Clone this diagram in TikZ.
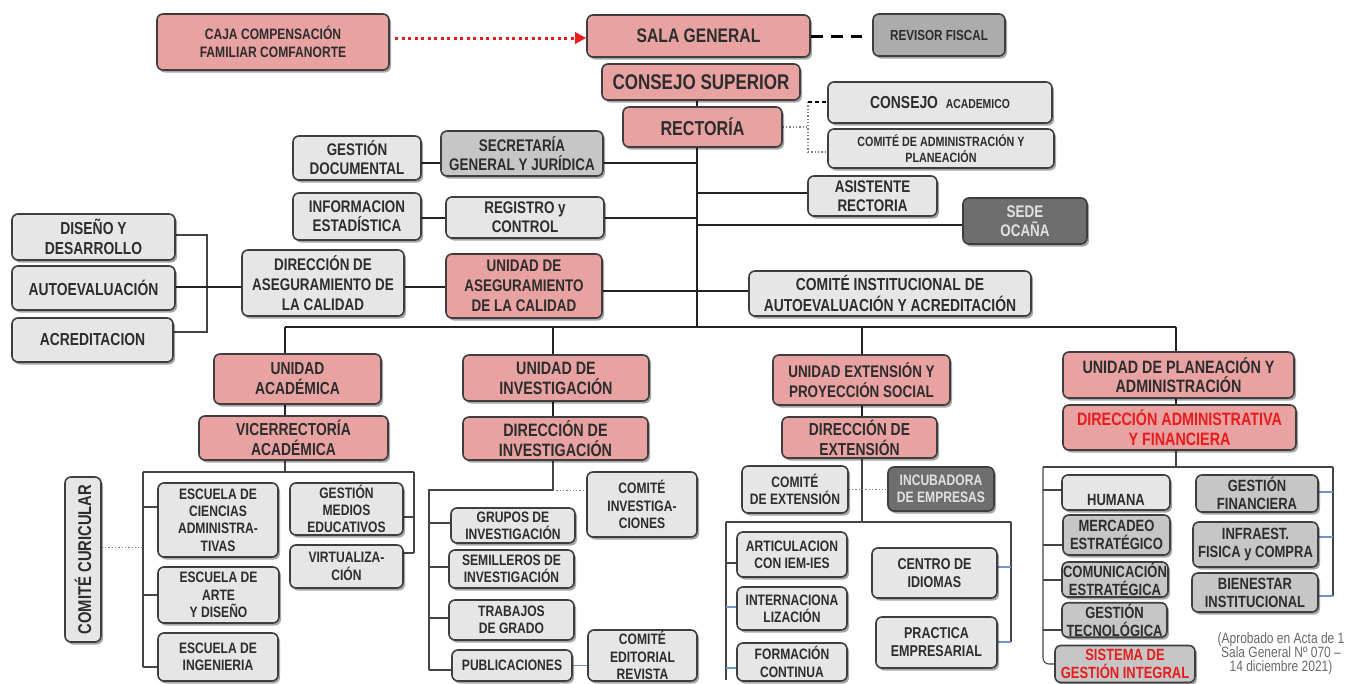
\documentclass[tikz,border=0pt]{standalone}
\usepackage{fontspec}
\setmainfont{Liberation Sans}[FakeStretch=0.8]
\usetikzlibrary{shadows,arrows.meta}
\pgfdeclarelayer{background}
\pgfsetlayers{background,main}
\definecolor{pinkb}{RGB}{232,162,162}
\definecolor{lgray}{RGB}{230,230,230}
\definecolor{mgray}{RGB}{198,198,198}
\definecolor{rgray}{RGB}{172,172,172}
\definecolor{dgray}{RGB}{110,110,110}
\definecolor{edge}{RGB}{62,62,62}
\definecolor{txt}{RGB}{45,45,45}
\definecolor{conn}{RGB}{35,35,35}
\definecolor{bluel}{RGB}{110,150,205}
\definecolor{redt}{RGB}{232,28,28}
\newcommand\fs[2]{\bfseries\fontsize{\fpeval{#1*1.12}}{\fpeval{#2*1.12}}\selectfont}
\tikzset{
  box/.style={draw=edge, line width=1.6pt, rounded corners=6pt, align=center,
    inner sep=1pt, text=txt,
    drop shadow={shadow xshift=2pt, shadow yshift=-2.5pt, opacity=0.35, fill=black}},
  pinkbox/.style={box, fill=pinkb},
  lbox/.style={box, fill=lgray},
  mbox/.style={box, fill=mgray},
  rbox/.style={box, fill=rgray},
  dbox/.style={box, fill=dgray, text={rgb,255:red,225;green,225;blue,225}},
  wh/.style 2 args={minimum width=#1pt, minimum height=#2pt},
  ln/.style={draw=conn, line width=1.5pt},
  lnb/.style={draw=conn, line width=2.6pt},
  lnt/.style={draw=conn!85, line width=1.1pt},
  bl/.style={draw=bluel, line width=1.1pt},
  dotline/.style={draw=gray, line width=1.3pt, dotted},
  reddot/.style={draw=redt, line width=3pt, dash pattern=on 3pt off 3.5pt,
    -{Triangle[length=11pt,width=11pt]}},
  blackdash/.style={draw=black, line width=3pt, dash pattern=on 12pt off 8pt},
}
\begin{document}
\begin{tikzpicture}[x=1pt,y=-1pt]
\useasboundingbox (0,0) rectangle (1351,683);

% ---------- coordinates ----------
\coordinate (spT) at (697,100);
\coordinate (spB) at (697,327);
\coordinate (s1) at (697,163);
\coordinate (s2) at (697,218);
\coordinate (s3) at (697,193);
\coordinate (s4) at (697,225);
\coordinate (s5) at (697,291);
\coordinate (dA) at (808,102);
\coordinate (dB) at (808,152);
\coordinate (b1) at (207,235);
\coordinate (b2) at (207,332);
\coordinate (a1) at (243,287);
\coordinate (busL) at (285,327);
\coordinate (busR) at (1176,327);
\coordinate (k2) at (553,327);
\coordinate (k3) at (862,327);
\coordinate (v1) at (285,472);
\coordinate (aL) at (143,472);
\coordinate (aR) at (414,472);
\coordinate (aLB) at (143,667);
\coordinate (aRB) at (414,553);
\coordinate (e1) at (143,507);
\coordinate (e2) at (143,595);
\coordinate (r1) at (414,517);
\coordinate (c1) at (143,547);
\coordinate (i1) at (553,490);
\coordinate (iL) at (429,490);
\coordinate (iLB) at (429,670);
\coordinate (g1) at (429,523);
\coordinate (g2) at (429,567);
\coordinate (g3) at (429,618);
\coordinate (x1) at (862,522);
\coordinate (xL) at (726,522);
\coordinate (xR) at (1011,522);
\coordinate (xLB) at (726,680);
\coordinate (xRB) at (1011,642);
\coordinate (x2) at (726,563);
\coordinate (x3) at (726,607);
\coordinate (x4) at (726,668);
\coordinate (x5) at (1011,567);
\coordinate (p1) at (1176,467);
\coordinate (pL) at (1043,467);
\coordinate (pR) at (1333,467);
\coordinate (pRB) at (1333,596);
\coordinate (q1) at (1043,490);
\coordinate (q2) at (1043,545);
\coordinate (q3) at (1043,580);
\coordinate (q4) at (1043,630);
\coordinate (q5) at (1333,492);
\coordinate (q6) at (1333,537);
\coordinate (ar) at (395,38);

% ---------- top ----------
\node[pinkbox, wh={232}{56}, font=\fs{13.5}{16}] (caja) at (273,42) {CAJA COMPENSACIÓN\\FAMILIAR COMFANORTE};
\node[pinkbox, wh={223}{42}, font=\fs{17.5}{20}] (sala) at (698.5,36) {SALA GENERAL};
\node[rbox, wh={132}{42}, font=\fs{13}{15}] (revisor) at (939,35) {REVISOR FISCAL};
\node[pinkbox, wh={198}{36}, font=\fs{19}{21}] (consup) at (701,82) {CONSEJO SUPERIOR};
\node[pinkbox, wh={159}{40}, font=\fs{18}{20}] (rect) at (702.5,127) {RECTORÍA};
\node[lbox, wh={224}{41}, font=\fs{15.5}{18}] (consacad) at (940,102.5) {CONSEJO\ \ {\fontsize{13}{14}\selectfont ACADEMICO}};
\node[lbox, wh={226}{39}, font=\fs{12}{14.5}] (comadm) at (941,148.5) {COMITÉ DE ADMINISTRACIÓN Y\\PLANEACIÓN};
\node[lbox, wh={128}{44}, font=\fs{15}{17}] (gestdoc) at (357,158) {GESTIÓN\\DOCUMENTAL};
\node[mbox, wh={162}{45}, font=\fs{15}{17}] (secgen) at (522,153.5) {SECRETARÍA\\GENERAL Y JURÍDICA};
\node[lbox, wh={128}{47}, font=\fs{15}{17}] (infest) at (357,216.5) {INFORMACION\\ESTADÍSTICA};
\node[lbox, wh={158}{41}, font=\fs{15}{17}] (regctrl) at (525,217.5) {REGISTRO y\\CONTROL};
\node[lbox, wh={129}{40}, font=\fs{15}{17}] (asist) at (872.5,196) {ASISTENTE\\RECTORIA};
\node[dbox, wh={124}{46}, font=\fs{15}{17}] (sede) at (1025,221) {SEDE\\OCAÑA};
\node[lbox, wh={163}{46}, font=\fs{15.5}{18}] (diseno) at (93.5,237) {DISEÑO Y\\DESARROLLO};
\node[lbox, wh={163}{44}, font=\fs{15.5}{18}] (autoev) at (93.5,288) {AUTOEVALUACIÓN};
\node[lbox, wh={161}{44}, font=\fs{15.5}{18}] (acred) at (92.5,340) {ACREDITACION};
\node[lbox, wh={162}{66}, font=\fs{15}{18}] (dirasc) at (323,283) {DIRECCIÓN DE\\ASEGURAMIENTO DE\\LA CALIDAD};
\node[pinkbox, wh={156}{64}, font=\fs{15}{18}] (unasc) at (524,286) {UNIDAD DE\\ASEGURAMIENTO\\DE LA CALIDAD};
\node[lbox, wh={282}{45}, font=\fs{15.5}{19}] (comins) at (890,293.5) {COMITÉ INSTITUCIONAL DE\\AUTOEVALUACIÓN Y ACREDITACIÓN};

% ---------- second row ----------
\node[pinkbox, wh={167}{50}, font=\fs{15.5}{18}] (unacad) at (297.5,379) {UNIDAD\\ACADÉMICA};
\node[pinkbox, wh={189}{44}, font=\fs{15.5}{18}] (vicer) at (293.5,438) {VICERRECTORÍA\\ACADÉMICA};
\node[pinkbox, wh={186}{46}, font=\fs{16}{18}] (uninv) at (556,378) {UNIDAD DE\\INVESTIGACIÓN};
\node[pinkbox, wh={185}{43}, font=\fs{16}{18}] (dirinv) at (555.5,438.5) {DIRECCIÓN DE\\INVESTIGACIÓN};
\node[pinkbox, wh={177}{50}, font=\fs{15}{18}] (unext) at (861.5,380) {UNIDAD EXTENSIÓN Y\\PROYECCIÓN SOCIAL};
\node[pinkbox, wh={155}{41}, font=\fs{15.5}{18}] (dirext) at (859.5,437.5) {DIRECCIÓN DE\\EXTENSIÓN};
\node[pinkbox, wh={231}{46}, font=\fs{16}{17.5}] (unplan) at (1178.5,375) {UNIDAD DE PLANEACIÓN Y\\ADMINISTRACIÓN};
\node[pinkbox, wh={233}{45}, font=\fs{16}{17.5}, text=redt] (diradm) at (1179.5,427.5) {DIRECCIÓN ADMINISTRATIVA\\Y FINANCIERA};

% ---------- academic ----------
\node[lbox, rotate=90, wh={165}{36}, font=\fs{16.5}{18}] (comcur) at (83,559.5) {COMITÉ CURICULAR};
\node[lbox, wh={120}{74}, font=\fs{13.5}{15.5}] (esc1) at (218,520) {ESCUELA DE\\CIENCIAS\\ADMINISTRA-\\TIVAS};
\node[lbox, wh={121}{56}, font=\fs{13.5}{15.5}] (esc2) at (218.5,595) {ESCUELA DE\\ARTE\\Y DISEÑO};
\node[lbox, wh={120}{48}, font=\fs{13.5}{15.5}] (esc3) at (218,657) {ESCUELA DE\\INGENIERIA};
\node[lbox, wh={113}{52}, font=\fs{13.5}{15.5}] (gestmed) at (346.5,509) {GESTIÓN\\MEDIOS\\EDUCATIVOS};
\node[lbox, wh={113}{43}, font=\fs{13.5}{15.5}] (virt) at (346.5,566.5) {VIRTUALIZA-\\CIÓN};

% ---------- research ----------
\node[lbox, wh={110}{65}, font=\fs{13.5}{15.5}] (cominv) at (642,504.5) {COMITÉ\\INVESTIGA-\\CIONES};
\node[lbox, wh={124}{35}, font=\fs{13.5}{15.5}] (grupos) at (513,525.5) {GRUPOS DE\\INVESTIGACIÓN};
\node[lbox, wh={125}{38}, font=\fs{13.5}{15.5}] (semil) at (511.5,569) {SEMILLEROS DE\\INVESTIGACIÓN};
\node[lbox, wh={125}{40}, font=\fs{13.5}{15.5}] (trab) at (511.5,620) {TRABAJOS\\DE GRADO};
\node[lbox, wh={120}{31}, font=\fs{13.5}{15.5}] (publ) at (512,665.5) {PUBLICACIONES};
\node[lbox, wh={109}{51}, font=\fs{13.5}{15.5}] (comedit) at (642.5,655.5) {COMITÉ\\EDITORIAL\\REVISTA};

% ---------- extension ----------
\node[lbox, wh={106}{47}, font=\fs{13.5}{15.5}] (comext) at (795,489.5) {COMITÉ\\DE EXTENSIÓN};
\node[dbox, wh={106}{44}, font=\fs{13.5}{15.5}] (incub) at (941,489) {INCUBADORA\\DE EMPRESAS};
\node[lbox, wh={110}{45}, font=\fs{13.5}{15.5}] (artic) at (792,554.5) {ARTICULACION\\CON IEM-IES};
\node[lbox, wh={110}{43}, font=\fs{13.5}{15.5}] (intern) at (792,608.5) {INTERNACIONA\\LIZACIÓN};
\node[lbox, wh={110}{38}, font=\fs{13.5}{15.5}] (formc) at (792,662) {FORMACIÓN\\CONTINUA};
\node[lbox, wh={125}{50}, font=\fs{14}{16}] (centro) at (934.5,573) {CENTRO DE\\IDIOMAS};
\node[lbox, wh={121}{51}, font=\fs{14}{16}] (pract) at (936.5,642.5) {PRACTICA\\EMPRESARIAL};

% ---------- planeacion ----------
\node[lbox, wh={108}{35}, label={[font=\fs{14.5}{16}, text=txt, yshift=-7pt]center:HUMANA}] (humana) at (1116,492.5) {};
\node[mbox, wh={107}{40}, font=\fs{14.5}{16}] (mercadeo) at (1116.5,535) {MERCADEO\\ESTRATÉGICO};
\node[mbox, wh={106}{35}, font=\fs{14.5}{16}] (comunic) at (1115,579.5) {COMUNICACIÓN\\ESTRATÉGICA};
\node[mbox, wh={105}{34}, font=\fs{14.5}{16}] (gesttec) at (1114.5,620) {GESTIÓN\\TECNOLÓGICA};
\node[mbox, wh={140}{37}, font=\fs{14.5}{16}, text=redt] (sistema) at (1125,664) {SISTEMA DE\\GESTIÓN INTEGRAL};
\node[mbox, wh={122}{37}, font=\fs{14.5}{16}] (gestfin) at (1257,493.5) {GESTIÓN\\FINANCIERA};
\node[mbox, wh={125}{45}, font=\fs{14.5}{16}] (infra) at (1255.5,544.5) {INFRAEST.\\FISICA y COMPRA};
\node[mbox, wh={126}{39}, font=\fs{14.5}{16}] (bien) at (1255,592.5) {BIENESTAR\\INSTITUCIONAL};
\node[align=center, text={rgb,255:red,105;green,105;blue,105}, font=\fontsize{15}{14}\selectfont, inner sep=0pt] (nota) at (1281,654) {(Aprobado en Acta de 1\\Sala General Nº 070 –\\14 diciembre 2021)};

% ---------- connectors ----------
\begin{pgfonlayer}{background}
\draw[reddot] (ar) -- (ar -| sala.west);
\draw[blackdash, shorten >=10pt] (sala.east) -- (sala.east -| revisor.west);
\draw[ln] (spT) -- (spB);
\draw[dotline] (rect.east) -- (rect.east -| dA);
\draw[dotline] (dA) -- (dB);
\draw[draw=black, line width=1.5pt, dash pattern=on 4pt off 3pt] (dA) -- (consacad.west |- dA);
\draw[dotline] (dB) -- (comadm.west |- dB);
\draw[ln] (gestdoc.east |- s1) -- (secgen.west |- s1);
\draw[ln] (secgen.east |- s1) -- (s1);
\draw[ln] (infest.east |- s2) -- (regctrl.west |- s2);
\draw[ln] (regctrl.east |- s2) -- (s2);
\draw[ln] (s3) -- (asist.west |- s3);
\draw[ln] (s4) -- (sede.west |- s4);
\draw[lnt] (diseno.east |- b1) -- (b1) -- (b2) -- (acred.east |- b2);
\draw[ln] (autoev.east |- a1) -- (dirasc.west |- a1);
\draw[ln] (dirasc.east |- a1) -- (unasc.west |- a1);
\draw[ln] (unasc.east |- s5) -- (s5) -- (comins.west |- s5);
\draw[lnb] (busL) -- (busR);
\draw[ln] (busL) -- (busL |- unacad.north);
\draw[ln] (k2) -- (k2 |- uninv.north);
\draw[ln] (k3) -- (k3 |- unext.north);
\draw[ln] (busR) -- (busR |- unplan.north);
\draw[ln] (busL |- unacad.south) -- (busL |- vicer.north);
\draw[ln] (k2 |- uninv.south) -- (k2 |- dirinv.north);
\draw[ln] (k3 |- unext.south) -- (k3 |- dirext.north);
\draw[ln] (busR |- unplan.south) -- (busR |- diradm.north);
% academic
\draw[lnt] (busL |- vicer.south) -- (v1);
\draw[lnt] (aL) -- (aR);
\draw[lnt] (aL) -- (aLB);
\draw[lnt] (aR) -- (aRB);
\draw[lnt] (e1) -- (esc1.west |- e1);
\draw[lnt] (e2) -- (esc2.west |- e2);
\draw[lnt] (aLB) -- (esc3.west |- aLB);
\draw[lnt] (gestmed.east |- r1) -- (r1);
\draw[lnt] (virt.east |- aRB) -- (aRB);
\draw[dotline, line width=1pt] (comcur.south |- c1) -- (c1);
% research
\draw[lnt] (k2 |- dirinv.south) -- (i1);
\draw[lnt] (i1) -- (iL) -- (iLB);
\draw[dotline, line width=1pt] (i1) -- (cominv.west |- i1);
\draw[lnt] (g1) -- (grupos.west |- g1);
\draw[lnt] (g2) -- (semil.west |- g2);
\draw[lnt] (g3) -- (trab.west |- g3);
\draw[lnt] (iLB) -- (publ.west |- iLB);
\draw[bl] (publ.east) -- (comedit.west |- publ.east);
% extension
\draw[lnt] (k3 |- dirext.south) -- (x1);
\draw[dotline] (comext.east) -- (incub.west |- comext.east);
\draw[lnt] (xL) -- (xR);
\draw[lnt] (xL) -- (xLB);
\draw[lnt] (xR) -- (xRB);
\draw[lnt] (x2) -- (artic.west |- x2);
\draw[bl] (x3) -- (intern.west |- x3);
\draw[bl] (x4) -- (formc.west |- x4);
\draw[bl] (centro.east |- x5) -- (x5);
\draw[bl] (pract.east |- xRB) -- (xRB);
% planeacion
\draw[lnt] (busR |- diradm.south) -- (p1);
\draw[lnt] (pL) -- (pR);
\draw[lnt] (pR) -- (pRB);
\draw[lnt, rounded corners=6pt] (pL) |- (sistema.west);
\draw[lnt] (q1) -- (humana.west |- q1);
\draw[lnt] (q2) -- (mercadeo.west |- q2);
\draw[lnt] (q3) -- (comunic.west |- q3);
\draw[lnt] (q4) -- (gesttec.west |- q4);
\draw[bl] (gestfin.east |- q5) -- (q5);
\draw[bl] (infra.east |- q6) -- (q6);
\draw[bl] (bien.east |- pRB) -- (pRB);
\end{pgfonlayer}
\end{tikzpicture}
\end{document}
